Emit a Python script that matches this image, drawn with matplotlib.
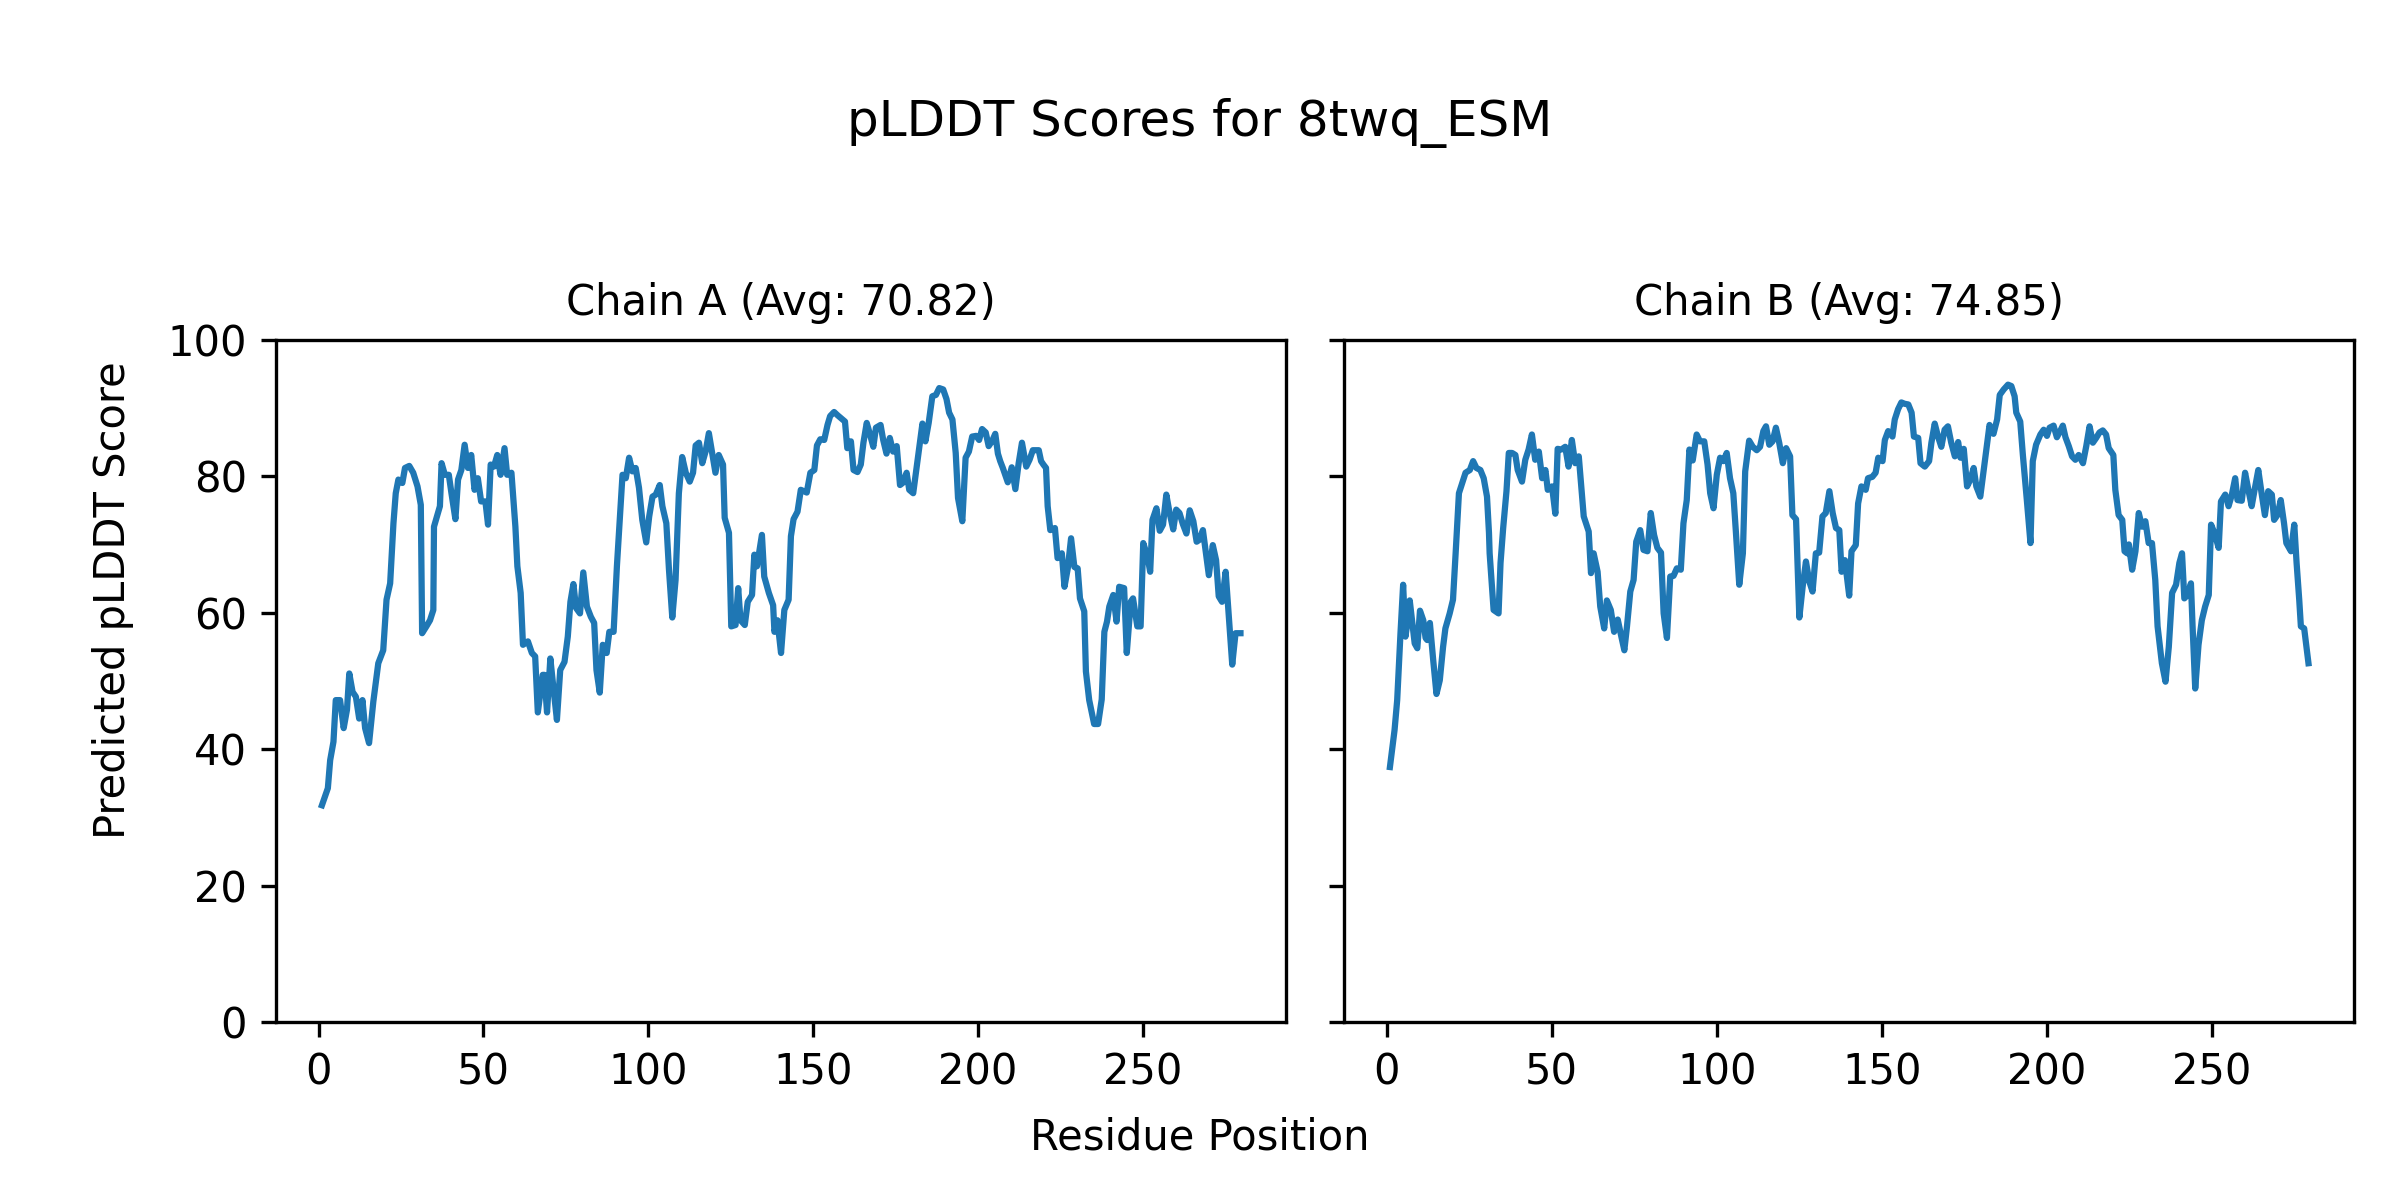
import matplotlib
matplotlib.use("Agg")
import matplotlib.pyplot as plt

# residue positions / pLDDT (line vertices)
chainA_pos = [1.0, 2.8, 3.5, 4.5, 5.2, 6.5, 7.6, 8.6, 9.3, 10.3, 11.3, 12.3, 13.3, 14.1, 15.3, 16.6, 18.1, 19.6, 20.6, 21.7,
              22.7, 23.4, 24.2, 25.4, 26.2, 27.5, 28.7, 30.0, 31.0, 31.4, 32.7, 33.8, 34.8, 35.0, 36.8, 37.3, 38.3, 39.5, 40.3, 41.5,
              42.3, 43.3, 44.3, 45.3, 46.3, 47.3, 48.3, 49.3, 50.6, 51.4, 52.2, 53.2, 54.2, 55.2, 56.4, 57.2, 58.5, 59.7, 60.3, 61.3,
              62.0, 63.5, 64.7, 65.7, 66.5, 68.0, 68.5, 69.3, 70.3, 71.3, 72.3, 73.3, 74.6, 75.6, 76.4, 77.3, 78.1, 79.3, 80.3, 81.4,
              82.6, 83.6, 84.3, 85.3, 86.2, 87.4, 88.2, 89.5, 90.5, 91.5, 92.2, 93.2, 94.2, 95.2, 96.2, 97.2, 98.2, 99.4, 100.3, 101.3,
              102.3, 103.5, 104.3, 105.5, 106.3, 107.3, 108.3, 109.3, 110.3, 111.4, 112.6, 113.6, 114.4, 115.4, 116.4, 117.4, 118.4, 119.4, 120.4, 121.4,
              122.7, 123.2, 124.5, 125.2, 126.5, 127.3, 128.0, 129.3, 130.2, 131.5, 132.2, 133.0, 134.5, 135.2, 136.6, 137.9, 138.3, 139.2, 140.3, 141.3,
              142.6, 143.3, 144.1, 145.3, 146.3, 148.1, 149.2, 150.4, 151.2, 152.2, 153.4, 154.4, 155.2, 156.4, 157.5, 158.7, 159.7, 160.4, 161.5, 162.3,
              163.5, 164.5, 165.3, 166.3, 167.3, 168.3, 169.1, 170.5, 171.3, 172.3, 173.3, 174.3, 175.4, 176.4, 177.2, 178.4, 179.2, 180.4, 181.9, 183.2,
              184.1, 185.1, 186.2, 187.3, 188.3, 189.5, 190.5, 191.3, 192.3, 193.3, 194.0, 195.3, 196.3, 197.3, 198.3, 199.5, 200.4, 201.3, 202.4, 203.3,
              204.4, 205.3, 206.1, 206.8, 207.6, 209.1, 210.3, 211.4, 212.4, 213.4, 214.7, 215.7, 216.7, 218.5, 219.2, 219.9, 220.7, 221.2, 222.0, 223.4,
              224.2, 225.5, 226.3, 227.3, 228.3, 229.3, 230.3, 231.0, 232.3, 232.8, 233.8, 235.3, 236.5, 237.6, 238.4, 239.2, 239.9, 241.1, 242.1, 242.9,
              244.4, 245.2, 246.4, 247.1, 248.4, 249.4, 250.2, 251.5, 252.3, 253.0, 254.2, 255.2, 256.2, 257.2, 258.2, 259.3, 260.2, 261.2, 262.2, 263.3,
              264.3, 265.4, 266.4, 267.3, 268.3, 269.1, 270.1, 271.3, 272.3, 273.1, 274.1, 275.2, 276.2, 277.2, 278.2, 279.7]
chainA_score = [31.8, 34.3, 38.4, 41.1, 47.2, 47.2, 43.1, 45.8, 51.1, 48.4, 47.7, 44.5, 47.2, 43.1, 40.9, 47.0, 52.6, 54.5, 61.9, 64.3,
                73.1, 77.5, 79.5, 79.0, 81.2, 81.5, 80.5, 78.5, 75.8, 57.0, 58.0, 58.9, 60.4, 72.6, 75.6, 81.9, 80.2, 80.2, 77.5, 73.7,
                79.5, 80.9, 84.6, 81.2, 83.1, 78.0, 79.7, 76.3, 76.3, 72.9, 81.7, 81.4, 83.1, 80.2, 84.1, 80.2, 80.5, 72.6, 66.8, 62.9,
                55.3, 55.8, 54.1, 53.6, 45.4, 50.9, 50.9, 45.4, 53.3, 48.7, 44.3, 51.6, 52.8, 56.5, 61.6, 64.2, 60.7, 59.9, 65.9, 60.9,
                59.4, 58.5, 51.6, 48.3, 55.3, 54.1, 57.2, 57.2, 66.8, 74.8, 80.2, 79.7, 82.7, 80.7, 81.2, 78.3, 73.6, 70.3, 74.1, 77.0,
                77.3, 78.7, 75.6, 73.1, 66.3, 59.3, 64.8, 77.5, 82.8, 80.5, 79.2, 80.5, 84.5, 84.9, 81.9, 83.6, 86.3, 83.4, 80.5, 83.1,
                81.7, 73.9, 71.7, 58.0, 58.2, 63.6, 58.9, 58.2, 61.6, 62.6, 68.5, 66.8, 71.4, 65.3, 62.9, 61.1, 57.2, 58.9, 54.1, 60.4,
                61.9, 71.2, 73.7, 74.8, 78.0, 77.6, 80.5, 80.9, 84.5, 85.4, 85.3, 87.5, 88.8, 89.4, 88.9, 88.4, 88.0, 84.1, 85.1, 80.9,
                80.6, 81.7, 84.9, 87.8, 86.1, 84.3, 87.1, 87.5, 85.3, 83.3, 85.6, 83.6, 84.4, 78.7, 79.0, 80.5, 78.0, 77.5, 82.9, 87.7,
                85.1, 87.8, 91.7, 91.9, 92.9, 92.7, 91.3, 89.3, 88.3, 83.4, 76.8, 73.4, 82.7, 83.6, 85.8, 85.9, 85.3, 86.9, 86.4, 84.4,
                85.2, 86.2, 83.3, 82.2, 81.2, 79.1, 81.3, 78.1, 81.9, 84.9, 81.4, 82.4, 83.8, 83.8, 82.2, 81.7, 81.2, 75.6, 72.1, 72.4,
                68.0, 68.7, 63.8, 66.5, 70.9, 66.7, 66.5, 62.1, 60.2, 51.4, 47.2, 43.7, 43.7, 47.3, 57.2, 58.7, 60.9, 62.6, 58.7, 63.8,
                63.6, 54.1, 61.6, 62.1, 58.0, 58.0, 70.2, 68.2, 66.0, 73.6, 75.3, 72.0, 72.9, 77.3, 74.6, 72.2, 75.1, 74.6, 73.0, 71.6,
                75.0, 73.4, 70.4, 70.7, 72.1, 69.2, 65.5, 69.9, 67.7, 62.4, 61.6, 66.0, 59.2, 52.4, 57.0, 57.0]

chainB_pos = [1.0, 2.4, 3.2, 4.2, 5.0, 5.7, 6.4, 7.0, 7.8, 8.5, 9.3, 10.1, 11.1, 11.8, 12.3, 13.1, 14.1, 15.1, 16.1, 17.1,
              17.8, 19.1, 20.1, 20.9, 21.9, 22.9, 23.9, 25.2, 26.2, 27.2, 28.4, 29.4, 30.4, 31.0, 31.2, 32.4, 33.9, 34.5, 35.3, 36.3,
              37.0, 38.0, 39.0, 39.7, 41.0, 42.0, 43.0, 44.0, 45.0, 46.1, 47.1, 48.1, 48.8, 50.1, 51.1, 51.8, 52.9, 54.1, 55.1, 56.1,
              57.1, 58.2, 59.7, 61.2, 61.9, 62.7, 63.9, 64.7, 65.9, 66.7, 67.9, 68.9, 70.0, 71.0, 72.0, 72.8, 73.8, 74.8, 75.6, 76.8,
              77.8, 79.0, 80.0, 81.0, 82.0, 83.1, 83.9, 84.9, 85.9, 86.9, 87.9, 89.1, 89.9, 90.9, 91.7, 92.7, 93.9, 94.9, 96.2, 97.2,
              98.0, 99.0, 100.0, 101.0, 102.0, 103.0, 104.0, 105.0, 105.8, 106.8, 107.9, 108.6, 109.8, 110.9, 112.1, 113.1, 114.1, 114.9, 115.9, 116.9,
              117.9, 118.9, 120.0, 121.0, 122.2, 122.9, 124.0, 125.0, 126.0, 127.0, 128.0, 129.0, 130.0, 131.0, 132.0, 133.0, 134.1, 135.1, 136.1, 137.1,
              137.8, 138.8, 140.1, 140.8, 142.1, 142.8, 143.8, 145.1, 145.8, 147.1, 148.1, 148.9, 150.2, 150.9, 151.9, 153.2, 153.9, 154.9, 155.9, 156.9,
              158.0, 159.0, 159.7, 161.0, 161.7, 163.0, 164.3, 165.0, 166.0, 167.0, 168.0, 169.0, 170.0, 171.0, 172.1, 173.1, 173.8, 174.8, 175.8, 176.8,
              177.8, 178.6, 179.8, 181.1, 182.6, 183.8, 184.9, 185.7, 186.9, 188.2, 189.2, 190.2, 190.7, 191.9, 192.7, 193.9, 195.0, 195.7, 196.7, 198.0,
              199.0, 200.0, 200.8, 202.0, 203.0, 204.0, 204.8, 205.6, 206.6, 207.6, 208.6, 209.6, 210.9, 211.9, 212.9, 213.9, 214.9, 215.9, 216.9, 217.9,
              218.7, 219.4, 220.1, 220.7, 221.7, 222.8, 223.5, 224.3, 224.8, 225.8, 226.8, 227.8, 228.8, 229.8, 230.8, 231.8, 232.8, 233.5, 234.8, 235.9,
              236.9, 237.9, 239.1, 240.1, 240.9, 241.6, 242.6, 243.6, 244.1, 244.9, 245.9, 246.9, 247.9, 249.0, 249.7, 250.7, 252.0, 252.7, 254.0, 255.0,
              256.0, 257.0, 257.7, 259.0, 260.0, 261.0, 262.0, 263.0, 264.0, 265.0, 266.0, 267.0, 268.1, 268.8, 269.8, 270.8, 271.8, 272.5, 273.9, 274.9,
              275.6, 276.4, 276.9, 277.9, 279.2]
chainB_score = [37.4, 42.8, 47.2, 57.0, 64.1, 56.5, 58.9, 61.8, 58.5, 55.5, 54.8, 60.3, 58.9, 56.3, 56.0, 58.5, 53.1, 48.1, 50.1, 55.0,
                57.7, 59.9, 61.9, 68.7, 77.5, 79.0, 80.5, 80.9, 82.2, 81.2, 80.9, 79.7, 77.0, 71.7, 68.7, 60.4, 59.9, 67.3, 72.4, 77.8,
                83.4, 83.4, 83.1, 80.9, 79.2, 82.4, 83.9, 86.1, 82.4, 83.6, 79.7, 80.9, 78.0, 78.5, 74.5, 84.0, 83.9, 84.3, 81.4, 85.3,
                81.9, 82.9, 74.1, 71.9, 65.8, 68.7, 66.0, 60.9, 57.7, 61.8, 60.4, 57.2, 59.0, 56.7, 54.5, 58.0, 63.1, 64.8, 70.4, 72.1,
                69.2, 69.0, 74.6, 71.4, 69.5, 68.8, 59.9, 56.3, 65.3, 65.4, 66.5, 66.3, 73.1, 76.5, 83.9, 82.3, 86.1, 85.1, 85.1, 81.7,
                77.5, 75.3, 80.2, 82.7, 82.2, 83.4, 79.7, 77.5, 71.7, 64.1, 68.7, 80.7, 85.2, 84.3, 83.8, 84.3, 86.6, 87.3, 84.6, 85.1,
                87.1, 84.9, 81.9, 84.1, 82.9, 74.3, 73.7, 59.3, 63.8, 67.5, 64.6, 63.1, 68.7, 68.8, 74.1, 74.6, 77.8, 74.6, 72.4, 72.1,
                66.0, 67.7, 62.5, 69.0, 69.9, 76.0, 78.5, 78.0, 79.7, 79.9, 80.5, 82.7, 82.2, 85.3, 86.6, 85.8, 88.3, 89.8, 90.8, 90.6,
                90.5, 89.3, 85.8, 85.6, 81.9, 81.4, 82.2, 84.9, 87.7, 85.8, 84.3, 86.8, 87.3, 84.9, 82.9, 85.0, 82.7, 84.0, 78.5, 79.5,
                81.2, 78.5, 77.0, 81.9, 87.5, 86.2, 88.3, 91.9, 92.7, 93.4, 93.2, 91.7, 89.3, 88.0, 83.1, 76.5, 70.2, 82.2, 84.6, 86.1,
                86.8, 85.9, 87.1, 87.4, 85.7, 86.6, 87.4, 85.7, 84.4, 82.9, 82.4, 83.1, 81.9, 84.4, 87.3, 84.9, 85.6, 86.4, 86.7, 86.1,
                84.1, 83.6, 83.1, 78.0, 74.3, 73.6, 69.0, 68.7, 70.0, 66.3, 69.0, 74.6, 72.6, 73.4, 70.2, 70.2, 64.8, 58.0, 52.6, 49.9,
                55.0, 62.9, 64.1, 67.3, 68.7, 62.1, 62.6, 64.3, 58.0, 48.9, 55.3, 58.9, 60.9, 62.6, 72.9, 71.7, 69.5, 76.3, 77.3, 75.6,
                77.3, 79.7, 76.5, 76.4, 80.5, 78.0, 75.6, 78.3, 80.9, 77.5, 74.3, 77.8, 77.3, 73.6, 74.3, 76.5, 73.1, 70.2, 69.0, 72.9,
                67.3, 61.9, 58.0, 57.7, 52.6]

chain_titles = ["Chain A (Avg: 70.82)", "Chain B (Avg: 74.85)"]

fig, axes = plt.subplots(1, 2, figsize=(8, 4), dpi=300, sharey=True)

axes[0].plot(chainA_pos, chainA_score, color="#1f77b4", linewidth=1.5)
axes[1].plot(chainB_pos, chainB_score, color="#1f77b4", linewidth=1.5)

for ax, t in zip(axes, chain_titles):
    ax.set_title(t, fontsize=10)
    ax.set_ylim(0, 100)

fig.suptitle("pLDDT Scores for 8twq_ESM", fontsize=12, y=0.918)
fig.text(0.5, 0.052, "Residue Position", ha="center", va="center", fontsize=10)
fig.text(0.047, 0.5, "Predicted pLDDT Score", ha="center", va="center", rotation=90, fontsize=10)

plt.subplots_adjust(left=0.115, right=0.981, bottom=0.148, top=0.717, wspace=0.057)
plt.savefig("out.png", dpi=300)
